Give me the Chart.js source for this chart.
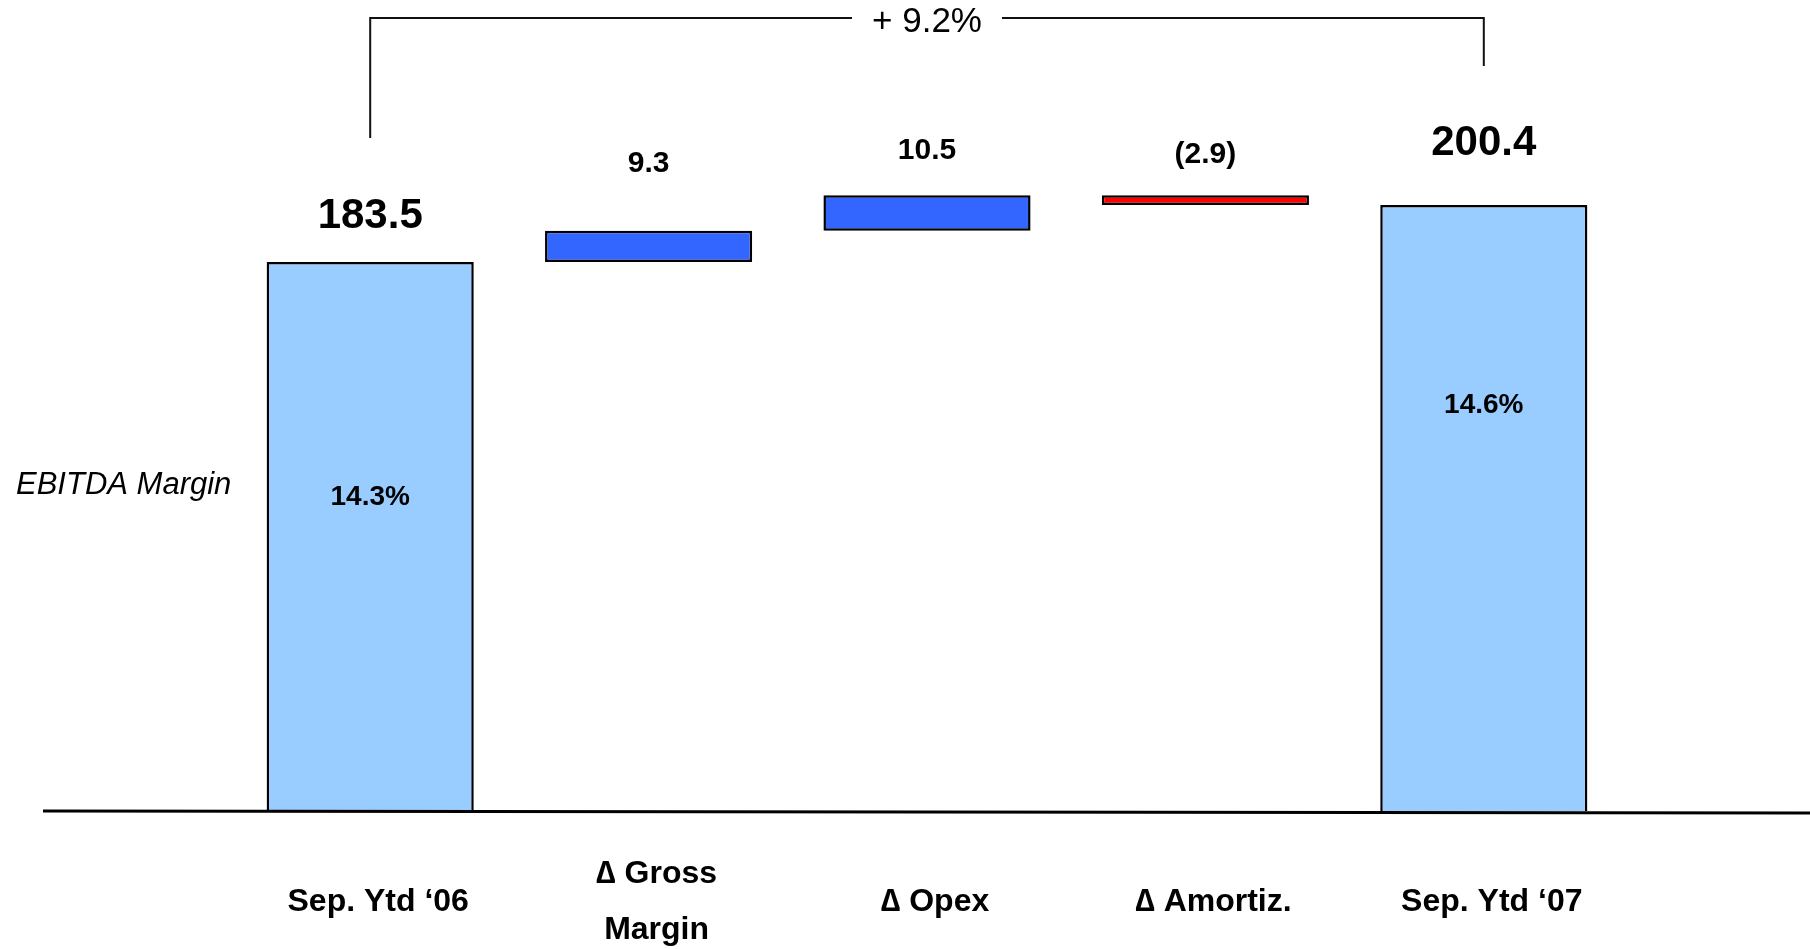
<!DOCTYPE html>
<html>
<head>
<meta charset="utf-8">
<script src="https://cdn.jsdelivr.net/npm/chart.js@4/dist/chart.umd.min.js"></script>
<style>
  html, body { margin: 0; padding: 0; background: #fff; }
  #wrap { width: 1810px; height: 949px; }
</style>
</head>
<body>
<div id="wrap"><canvas id="ebitda" width="1810" height="949"></canvas></div>
<script>
// EBITDA bridge Sep. Ytd '06 -> Sep. Ytd '07

const categories = ['Sep. Ytd \u201806', ['\u2206 Gross', 'Margin'], '\u2206 Opex', '\u2206 Amortiz.', 'Sep. Ytd \u201807'];
const startTotal = 183.5;
const deltas = [9.3, 10.5, -2.9];
const endTotal = 200.4;
const margins = [14.3, null, null, null, 14.6];

const FONT = "'Liberation Sans', Arial, sans-serif";

// floating bars for the waterfall
let bars = [[0, startTotal]];
let run = startTotal;
deltas.forEach(function (d) {
  bars.push([run, run + d]);
  run += d;
});
bars.push([0, endTotal]);

let fills = bars.map(function (b, i) {
  if (i === 0 || i === bars.length - 1) return '#99CCFF';
  return b[1] >= b[0] ? '#3366FF' : '#FF0000';
});

// label text: totals plain, negatives in brackets
function fmt(v) {
  let s = Math.abs(v).toFixed(1);
  return v < 0 ? '(' + s + ')' : s;
}
let valueTexts = [fmt(startTotal)].concat(deltas.map(fmt), [fmt(endTotal)]);

// how far each value label sits above its bar (px)
const labelGap = [46, 67, 44, 40, 62];
// vertical spot of the margin % inside the total bars (px)
const marginY = [497, null, null, null, 405];

const bridgeDecor = {
  id: 'bridgeDecor',
  afterDatasetsDraw(chart) {
    const ctx = chart.ctx;
    const area = chart.chartArea;
    const meta = chart.getDatasetMeta(0);
    ctx.save();

    // base line across the page
    ctx.strokeStyle = '#000';
    ctx.lineWidth = 3;
    ctx.beginPath();
    ctx.moveTo(43, area.bottom);
    ctx.lineTo(1810, area.bottom + 2);
    ctx.stroke();

    ctx.fillStyle = '#000';
    ctx.textAlign = 'center';
    ctx.textBaseline = 'middle';

    // value labels above bars
    meta.data.forEach(function (bar, i) {
      let top = Math.min(bar.y, bar.base);
      let isTotal = (i === 0 || i === meta.data.length - 1);
      ctx.font = 'bold ' + (isTotal ? 42 : 30) + 'px ' + FONT;
      ctx.fillText(valueTexts[i], bar.x, top - labelGap[i]);
    });

    // EBITDA margin inside total bars
    ctx.font = 'bold 28px ' + FONT;
    margins.forEach(function (m, i) {
      if (m === null) return;
      ctx.fillText(m.toFixed(1) + '%', meta.data[i].x, marginY[i]);
    });

    // side label
    ctx.font = 'italic 31px ' + FONT;
    ctx.textAlign = 'left';
    ctx.fillText('EBITDA Margin', 16, 485);

    // growth bracket
    let growth = (endTotal / startTotal - 1) * 100;
    let gTxt = '+ ' + growth.toFixed(1) + '%';
    let x0 = meta.data[0].x;
    let x1 = meta.data[meta.data.length - 1].x;
    let mid = (x0 + x1) / 2;
    ctx.font = '35px ' + FONT;
    let half = ctx.measureText(gTxt).width / 2 + 20;
    ctx.lineWidth = 2;
    ctx.strokeStyle = '#111';
    ctx.beginPath();
    ctx.moveTo(x0, 138);
    ctx.lineTo(x0, 18);
    ctx.lineTo(mid - half, 18);
    ctx.moveTo(mid + half, 18);
    ctx.lineTo(x1, 18);
    ctx.lineTo(x1, 66);
    ctx.stroke();
    ctx.textAlign = 'center';
    ctx.fillText(gTxt, mid, 22);

    ctx.restore();
  }
};

let canvas = document.getElementById('ebitda');
new Chart(canvas, {
  type: 'bar',
  data: {
    labels: categories,
    datasets: [
      {
        data: bars,
        backgroundColor: fills,
        borderColor: '#000',
        borderWidth: 2.5,
        borderSkipped: false,
        barPercentage: 0.744,
        categoryPercentage: 1,
      },
    ],
  },
  options: {
    responsive: false,
    animation: false,
    layout: { padding: { left: 231, right: 187, top: 105, bottom: 0 } },
    plugins: {
      legend: { display: false },
      tooltip: { enabled: false },
    },
    scales: {
      x: {
        grid: { display: false, drawTicks: false },
        border: { display: false },
        ticks: {
          color: '#000',
          font: { family: FONT, size: 32, weight: 'bold', lineHeight: 1.75 },
          padding: 63,
          labelOffset: 8,
          crossAlign: 'center',
          maxRotation: 0,
          autoSkip: false,
        },
        afterFit(scale) {
          scale.height = 138;
        },
      },
      y: { display: false, min: 21, max: 230 },
    },
  },
  plugins: [bridgeDecor],
});
</script>
</body>
</html>
